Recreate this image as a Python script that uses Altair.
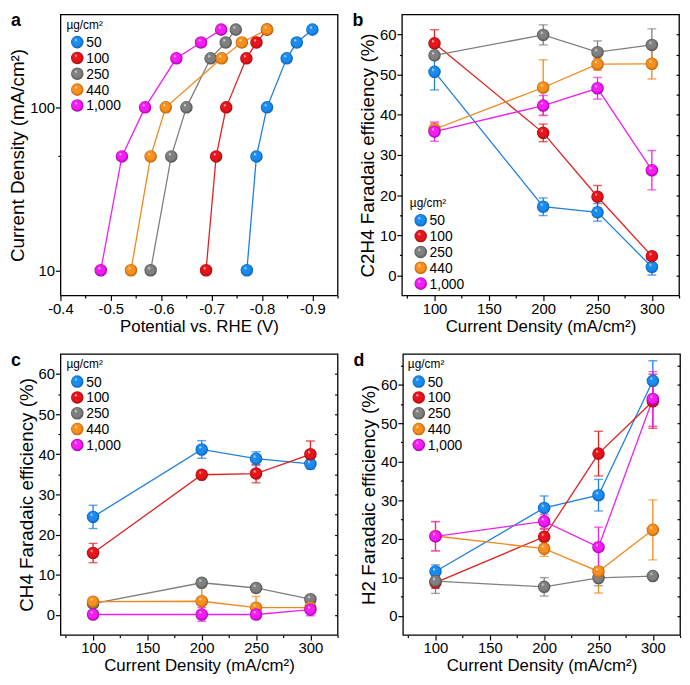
import altair as alt
import pandas as pd

FONT = "Liberation Sans"

# ---------------- data ----------------
series = ["50", "100", "250", "440", "1,000"]
ball_colors = ["#1a8cf0", "#e8141c", "#808080", "#f8901e", "#f51cf5"]
dark_colors = ["#0a5cb0", "#a00c10", "#4e4e4e", "#b8600a", "#a000a8"]
line_colors = ["#1d7fe0", "#e02020", "#7f7f7f", "#f0891c", "#ef1fef"]
legend_title = "µg/cm²"

# panel a: potential (V) at each current density
a_current = [10, 50, 100, 200, 250, 300]
a_pot_50 = [-0.770, -0.789, -0.810, -0.849, -0.869, -0.900]
a_pot_100 = [-0.689, -0.709, -0.729, -0.769, -0.789, -0.810]
a_pot_250 = [-0.579, -0.620, -0.650, -0.698, -0.728, -0.748]
a_pot_440 = [-0.540, -0.579, -0.609, -0.720, -0.760, -0.810]
a_pot_1000 = [-0.480, -0.522, -0.568, -0.630, -0.679, -0.719]

fe_current = [100, 200, 250, 300]

# panel b: C2H4 FE
b_50 = [50.7, 17.1, 15.7, 2.1]
b_50_err = [4.5, 2.2, 2.2, 2.0]
b_100 = [57.8, 35.5, 19.6, 4.8]
b_100_err = [3.4, 2.2, 2.8, 0.5]
b_250 = [54.8, 59.9, 55.6, 57.4]
b_250_err = [1.0, 2.5, 2.8, 4.0]
b_440 = [36.4, 46.8, 52.6, 52.7]
b_440_err = [1.5, 6.9, 1.5, 3.8]
b_1000 = [35.8, 42.3, 46.6, 26.2]
b_1000_err = [2.4, 2.5, 2.7, 4.9]

# panel c: CH4 FE
c_50 = [24.4, 41.2, 38.9, 37.6]
c_50_err = [2.9, 2.2, 1.7, 1.2]
c_100 = [15.4, 34.9, 35.2, 40.0]
c_100_err = [2.4, 0.5, 2.3, 3.3]
c_250 = [2.8, 8.0, 6.7, 3.9]
c_250_err = [0.5, 0.5, 0.5, 0.5]
c_440 = [3.3, 3.4, 1.8, 1.8]
c_440_err = [0.5, 3.6, 2.8, 0.5]
c_1000 = [0.1, 0.1, 0.1, 1.3]
c_1000_err = [0.3, 1.7, 0.3, 1.5]

# panel d: H2 FE
d_50 = [11.5, 28.0, 31.3, 61.0]
d_50_err = [1.7, 3.1, 4.1, 5.2]
d_100 = [8.6, 20.5, 42.1, 55.7]
d_100_err = [1.5, 2.0, 5.8, 7.0]
d_250 = [9.0, 7.5, 9.8, 10.3]
d_250_err = [3.2, 2.4, 2.0, 0.5]
d_440 = [20.7, 17.4, 11.5, 22.3]
d_440_err = [3.8, 2.0, 5.6, 7.8]
d_1000 = [20.6, 24.5, 17.8, 56.3]
d_1000_err = [3.8, 1.8, 5.2, 7.1]

# axis tick values
a_x_major = [-0.4, -0.5, -0.6, -0.7, -0.8, -0.9]
a_x_minor = [-0.45, -0.55, -0.65, -0.75, -0.85, -0.95]
a_y_major = [10, 100]
a_y_minor = [50]
fe_x_major = [100, 150, 200, 250, 300]
fe_x_minor = [75, 125, 175, 225, 275, 325]


def build_df(xs_list, ys_list, errs_list=None):
    rows = []
    for k, s in enumerate(series):
        xs = xs_list[k]
        ys = ys_list[k]
        for i in range(len(xs)):
            r = {"s": s, "i": i, "x": xs[i], "y": ys[i]}
            if errs_list is not None:
                e = errs_list[k][i]
                r["lo"] = ys[i] - e
                r["hi"] = ys[i] + e
            rows.append(r)
    return pd.DataFrame(rows)


df_a = build_df([a_pot_50, a_pot_100, a_pot_250, a_pot_440, a_pot_1000],
                [a_current] * 5)
df_b = build_df([fe_current] * 5, [b_50, b_100, b_250, b_440, b_1000],
                [b_50_err, b_100_err, b_250_err, b_440_err, b_1000_err])
df_c = build_df([fe_current] * 5, [c_50, c_100, c_250, c_440, c_1000],
                [c_50_err, c_100_err, c_250_err, c_440_err, c_1000_err])
df_d = build_df([fe_current] * 5, [d_50, d_100, d_250, d_440, d_1000],
                [d_50_err, d_100_err, d_250_err, d_440_err, d_1000_err])

leg_entries = pd.DataFrame({"s": series, "k": [0, 1, 2, 3, 4], "c": [0.55] * 5, "cl": [1.0] * 5})
leg_head = pd.DataFrame({"t": [legend_title], "k": [-1.1], "c": [0.0]})

W, H = 280, 284
PT = 160


def grad(base, dark):
    return {"gradient": "radial", "x1": 0.36, "y1": 0.3, "r1": 0.0,
            "x2": 0.5, "y2": 0.5, "r2": 0.5,
            "stops": [{"offset": 0.0, "color": "#ffffff"},
                      {"offset": 0.25, "color": base},
                      {"offset": 0.7, "color": base},
                      {"offset": 1.0, "color": dark}]}


def empty_axis(orient, values=None, size=2.5):
    return alt.Axis(orient=orient, values=values if values is not None else [],
                    labels=False, domain=False, ticks=True, tickSize=size,
                    title=None, grid=False)


def legend_layer(cx, y0):
    # legend drawn through its own index scales (k -> row, c -> column)
    lx = alt.Scale(domain=[0, 1], range=[cx - 11, cx + 9])
    ly = alt.Scale(domain=[0, 4], range=[y0, y0 + 64])
    LX = lambda f: alt.X(f + ":Q", scale=lx, axis=empty_axis("bottom"))
    LY = alt.Y("k:Q", scale=ly, axis=empty_axis("left"))
    lays = [alt.Chart(leg_head).mark_text(
        font=FONT, fontSize=12, align="left", baseline="middle", color="black").encode(
        x=LX("c"), y=LY, text="t:N")]
    ent = alt.Chart(leg_entries)
    for k, s in enumerate(series):
        lays.append(ent.transform_filter(alt.datum.s == s).mark_point(
            filled=True, shape="circle", size=PT, opacity=1, strokeWidth=0,
            fill=grad(ball_colors[k], dark_colors[k])).encode(x=LX("c"), y=LY))
    lays.append(ent.mark_text(font=FONT, fontSize=14, align="left", baseline="middle",
                              color="black", dy=1).encode(x=LX("cl"), y=LY, text="s:N"))
    return alt.layer(*lays)


def panel(df, xdom, ydom, xaxis, yaxis, xtitle, ytitle, letter, cx, y0,
          x_minor, y_minor, ylog=False, errors=True, right_vals=None):
    ytype = "log" if ylog else "linear"
    xscale = alt.Scale(domain=xdom, nice=False, zero=False)
    yscale = alt.Scale(domain=ydom, type=ytype, nice=False, zero=False)

    def X(field="x"):
        return alt.X(field + ":Q", scale=xscale, axis=xaxis, title=xtitle)

    def Y(field="y"):
        return alt.Y(field + ":Q", scale=yscale, axis=yaxis, title=ytitle)

    base = alt.Chart(df)
    sub = [base.transform_filter(alt.datum.s == s) for s in series]
    layers = []
    for k in range(5):
        layers.append(sub[k].mark_line(strokeWidth=1.3, color=line_colors[k]).encode(
            x=X(), y=Y(), order=alt.Order("i:Q")))
    if errors:
        for k in range(5):
            layers.append(sub[k].mark_rule(strokeWidth=1.3, color=line_colors[k]).encode(
                x=X(), y=Y("lo"), y2="hi:Q"))
            for f in ["lo", "hi"]:
                layers.append(sub[k].mark_tick(orient="horizontal", size=9, thickness=1.4,
                                               color=line_colors[k]).encode(x=X(), y=Y(f)))
    for k in range(5):
        layers.append(sub[k].mark_point(
            filled=True, shape="circle", size=PT, opacity=1, strokeWidth=0,
            fill=grad(ball_colors[k], dark_colors[k])).encode(x=X(), y=Y()))
    layers.append(alt.Chart(pd.DataFrame({"t": [letter]})).mark_text(
        font=FONT, fontSize=18, fontWeight="bold", align="left", baseline="top",
        color="black").encode(x=alt.value(-50), y=alt.value(-2), text="t:N"))
    inner = alt.layer(*layers)

    minor = base.mark_point(opacity=0).encode(
        x=alt.X("x:Q", scale=alt.Scale(domain=xdom, nice=False, zero=False),
                axis=empty_axis("bottom", x_minor)),
        y=alt.Y("y:Q", scale=alt.Scale(domain=ydom, type=ytype, nice=False, zero=False),
                axis=empty_axis("left", y_minor)))
    parts = [inner, minor]
    if right_vals is not None:
        parts.append(base.mark_point(opacity=0).encode(
            x=alt.X("x:Q", scale=alt.Scale(domain=xdom, nice=False, zero=False),
                    axis=empty_axis("top")),
            y=alt.Y("y:Q", scale=alt.Scale(domain=ydom, nice=False, zero=False),
                    axis=alt.Axis(orient="right", values=right_vals, labels=False,
                                  domain=False, ticks=True, tickSize=3, offset=-3,
                                  title=None, grid=False))))
    parts.append(legend_layer(cx, y0))
    out = alt.layer(*parts).resolve_scale(x="independent", y="independent")
    return out.properties(width=W, height=H)


def major_axis(orient, values, expr=None):
    kw = dict(orient=orient, values=values, tickSize=5)
    if expr is not None:
        kw["labelExpr"] = expr
    return alt.Axis(**kw)


fe_xaxis = major_axis("bottom", fe_x_major)
a_xaxis = major_axis("bottom", a_x_major, "'-' + format(abs(datum.value), '.1f')")
a_yaxis = major_axis("left", a_y_major, "format(datum.value, 'd')")

xt = "Current Density (mA/cm²)"

pa = panel(df_a, [-0.4, -0.95], [7, 372], a_xaxis, a_yaxis,
           "Potential vs. RHE (V)", "Current Density (mA/cm²)", "a", 17, 28,
           a_x_minor, a_y_minor, ylog=True, errors=False)
pb = panel(df_b, [70, 325], [-5, 65], fe_xaxis, major_axis("left", list(range(0, 61, 10))),
           xt, "C2H4 Faradaic efficiency (%)", "b", 19, 208,
           fe_x_minor, list(range(5, 61, 10)), right_vals=list(range(0, 61, 5)))
pc = panel(df_c, [70, 325], [-5, 65], fe_xaxis, major_axis("left", list(range(0, 61, 10))),
           xt, "CH4 Faradaic efficiency (%)", "c", 17, 28,
           fe_x_minor, list(range(5, 61, 10)), right_vals=list(range(0, 61, 5)))
pd_ = panel(df_d, [70, 325], [-5, 68], fe_xaxis, major_axis("left", list(range(0, 61, 10))),
            xt, "H2 Faradaic efficiency (%)", "d", 16, 28,
            fe_x_minor, list(range(5, 66, 10)), right_vals=list(range(0, 66, 5)))

row1 = alt.hconcat(pa, pb, spacing=12)
row2 = alt.hconcat(pc, pd_, spacing=13)
chart = alt.vconcat(row1, row2, spacing=16).properties(padding=0).configure_view(
    stroke="black", strokeWidth=1.3
).configure_axis(
    domain=False, grid=False, tickColor="black", tickWidth=1.2,
    labelFont=FONT, labelFontSize=15, labelColor="black",
    titleFont=FONT, titleFontWeight="normal", titleColor="black",
    labelPadding=1, titlePadding=2, labelOverlap=False, labelFlush=False
).configure_axisY(titleFontSize=19).configure_axisX(titleFontSize=17)

chart.save("out.html", embed_options={"renderer": "svg", "actions": False})
